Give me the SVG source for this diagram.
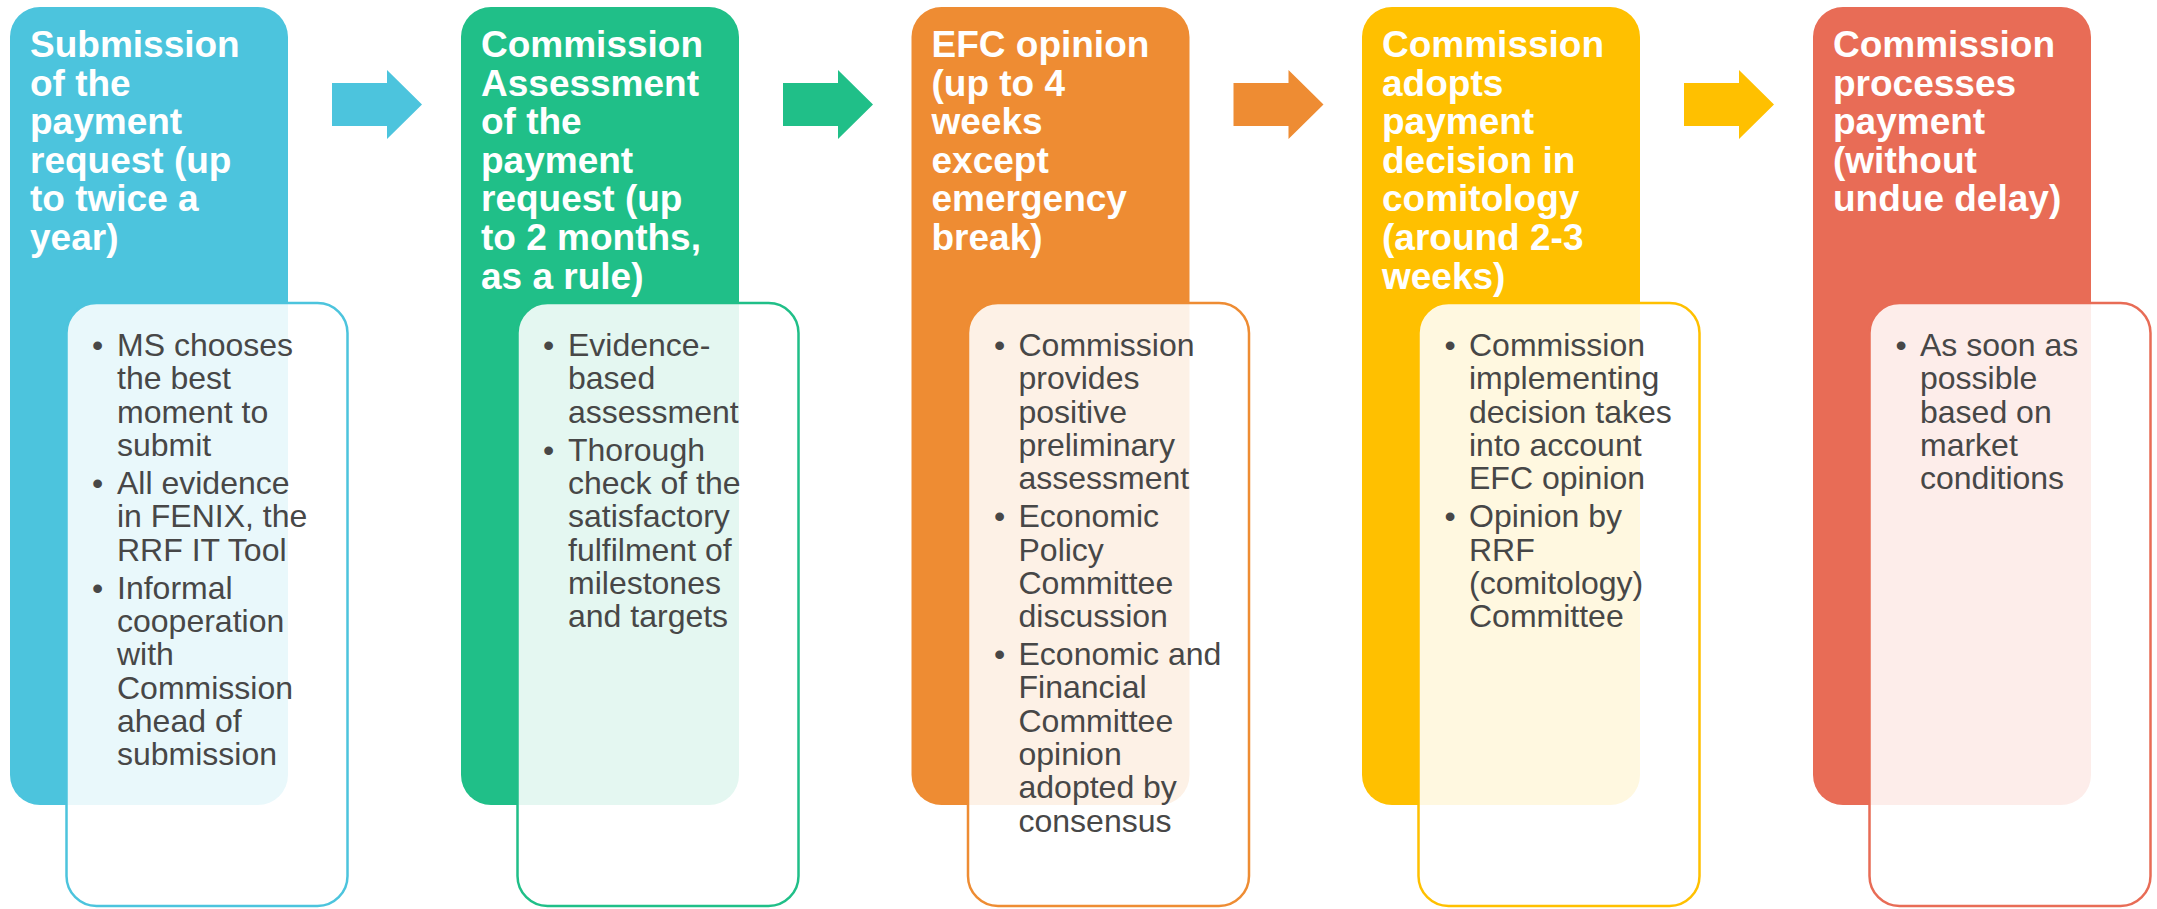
<svg xmlns="http://www.w3.org/2000/svg" width="2157" height="909" viewBox="0 0 2157 909">
<style>
.main{stroke:none}
.inner{fill:#ffffff;fill-opacity:0.88;stroke-width:2.5}
.title{font-family:"Liberation Sans",Arial,sans-serif;font-weight:bold;font-size:37px;fill:#ffffff}
.body{font-family:"Liberation Sans",Arial,sans-serif;font-size:32px;fill:#474747}
</style>
<rect width="2157" height="909" fill="#ffffff"/>
<g id="connectors">
<polygon points="332,83 387,83 387,70 422,104.5 387,139 387,126 332,126" fill="#4CC4DD"/>
<polygon points="783,83 838,83 838,70 873,104.5 838,139 838,126 783,126" fill="#20BF88"/>
<polygon points="1233.5,83 1288.5,83 1288.5,70 1323.5,104.5 1288.5,139 1288.5,126 1233.5,126" fill="#EE8C33"/>
<polygon points="1684,83 1739,83 1739,70 1774,104.5 1739,139 1739,126 1684,126" fill="#FFC000"/>
</g>
<g id="node1">
<rect class="main" x="10" y="7" width="278" height="798" rx="30" fill="#4CC4DD"/>
<text class="title" x="30"><tspan x="30" y="57">Submission</tspan><tspan x="30" y="95.6">of the</tspan><tspan x="30" y="134.2">payment</tspan><tspan x="30" y="172.8">request (up</tspan><tspan x="30" y="211.4">to twice a</tspan><tspan x="30" y="250">year)</tspan></text>
<rect class="inner" x="66.5" y="303" width="281" height="603" rx="30" stroke="#4CC4DD"/>
<text class="body"><tspan x="92" y="356">•</tspan><tspan x="117" y="356">MS chooses</tspan><tspan x="117" y="389.3">the best</tspan><tspan x="117" y="422.6">moment to</tspan><tspan x="117" y="455.9">submit</tspan><tspan x="92" y="494">•</tspan><tspan x="117" y="494">All evidence</tspan><tspan x="117" y="527.3">in FENIX, the</tspan><tspan x="117" y="560.6">RRF IT Tool</tspan><tspan x="92" y="598.6">•</tspan><tspan x="117" y="598.6">Informal</tspan><tspan x="117" y="631.9">cooperation</tspan><tspan x="117" y="665.2">with</tspan><tspan x="117" y="698.5">Commission</tspan><tspan x="117" y="731.8">ahead of</tspan><tspan x="117" y="765.1">submission</tspan></text>
</g>
<g id="node2">
<rect class="main" x="461" y="7" width="278" height="798" rx="30" fill="#20BF88"/>
<text class="title"><tspan x="481" y="57">Commission</tspan><tspan x="481" y="95.6">Assessment</tspan><tspan x="481" y="134.2">of the</tspan><tspan x="481" y="172.8">payment</tspan><tspan x="481" y="211.4">request (up</tspan><tspan x="481" y="250">to 2 months,</tspan><tspan x="481" y="288.6">as a rule)</tspan></text>
<rect class="inner" x="517.5" y="303" width="281" height="603" rx="30" stroke="#20BF88"/>
<text class="body"><tspan x="543" y="356">•</tspan><tspan x="568" y="356">Evidence-</tspan><tspan x="568" y="389.3">based</tspan><tspan x="568" y="422.6">assessment</tspan><tspan x="543" y="460.6">•</tspan><tspan x="568" y="460.6">Thorough</tspan><tspan x="568" y="493.9">check of the</tspan><tspan x="568" y="527.2">satisfactory</tspan><tspan x="568" y="560.5">fulfilment of</tspan><tspan x="568" y="593.8">milestones</tspan><tspan x="568" y="627.1">and targets</tspan></text>
</g>
<g id="node3">
<rect class="main" x="911.5" y="7" width="278" height="798" rx="30" fill="#EE8C33"/>
<text class="title"><tspan x="931.5" y="57">EFC opinion</tspan><tspan x="931.5" y="95.6">(up to 4</tspan><tspan x="931.5" y="134.2">weeks</tspan><tspan x="931.5" y="172.8">except</tspan><tspan x="931.5" y="211.4">emergency</tspan><tspan x="931.5" y="250">break)</tspan></text>
<rect class="inner" x="968" y="303" width="281" height="603" rx="30" stroke="#EE8C33"/>
<text class="body"><tspan x="994" y="356">•</tspan><tspan x="1018.5" y="356">Commission</tspan><tspan x="1018.5" y="389.3">provides</tspan><tspan x="1018.5" y="422.6">positive</tspan><tspan x="1018.5" y="455.9">preliminary</tspan><tspan x="1018.5" y="489.2">assessment</tspan><tspan x="994" y="527.2">•</tspan><tspan x="1018.5" y="527.2">Economic</tspan><tspan x="1018.5" y="560.5">Policy</tspan><tspan x="1018.5" y="593.8">Committee</tspan><tspan x="1018.5" y="627.1">discussion</tspan><tspan x="994" y="665.1">•</tspan><tspan x="1018.5" y="665.1">Economic and</tspan><tspan x="1018.5" y="698.4">Financial</tspan><tspan x="1018.5" y="731.7">Committee</tspan><tspan x="1018.5" y="765">opinion</tspan><tspan x="1018.5" y="798.3">adopted by</tspan><tspan x="1018.5" y="831.6">consensus</tspan></text>
</g>
<g id="node4">
<rect class="main" x="1362" y="7" width="278" height="798" rx="30" fill="#FFC000"/>
<text class="title"><tspan x="1382" y="57">Commission</tspan><tspan x="1382" y="95.6">adopts</tspan><tspan x="1382" y="134.2">payment</tspan><tspan x="1382" y="172.8">decision in</tspan><tspan x="1382" y="211.4">comitology</tspan><tspan x="1382" y="250">(around 2-3</tspan><tspan x="1382" y="288.6">weeks)</tspan></text>
<rect class="inner" x="1418.5" y="303" width="281" height="603" rx="30" stroke="#FFC000"/>
<text class="body"><tspan x="1444.5" y="356">•</tspan><tspan x="1469" y="356">Commission</tspan><tspan x="1469" y="389.3">implementing</tspan><tspan x="1469" y="422.6">decision takes</tspan><tspan x="1469" y="455.9">into account</tspan><tspan x="1469" y="489.2">EFC opinion</tspan><tspan x="1444.5" y="527.2">•</tspan><tspan x="1469" y="527.2">Opinion by</tspan><tspan x="1469" y="560.5">RRF</tspan><tspan x="1469" y="593.8">(comitology)</tspan><tspan x="1469" y="627.1">Committee</tspan></text>
</g>
<g id="node5">
<rect class="main" x="1813" y="7" width="278" height="798" rx="30" fill="#E86C56"/>
<text class="title"><tspan x="1833" y="57">Commission</tspan><tspan x="1833" y="95.6">processes</tspan><tspan x="1833" y="134.2">payment</tspan><tspan x="1833" y="172.8">(without</tspan><tspan x="1833" y="211.4">undue delay)</tspan></text>
<rect class="inner" x="1869.5" y="303" width="281" height="603" rx="30" stroke="#E86C56"/>
<text class="body"><tspan x="1895.5" y="356">•</tspan><tspan x="1920" y="356">As soon as</tspan><tspan x="1920" y="389.3">possible</tspan><tspan x="1920" y="422.6">based on</tspan><tspan x="1920" y="455.9">market</tspan><tspan x="1920" y="489.2">conditions</tspan></text>
</g>
</svg>
